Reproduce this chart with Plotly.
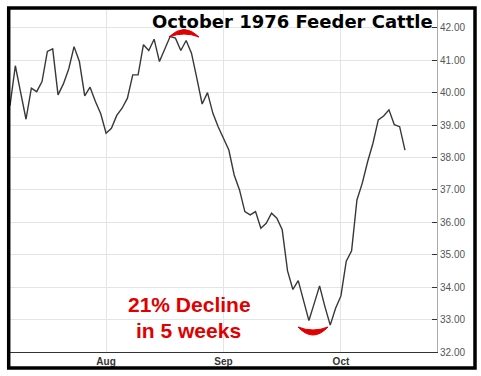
import pandas as pd
import plotly.graph_objects as go

# ---- data (trading days from 1976-07-07) ----
start_date = "1976-07-07"
prices = [
    39.60, 40.83, 40.00, 39.18, 40.14, 40.03, 40.34, 41.27, 41.35, 39.93,
    40.27, 40.73, 41.42, 40.96, 39.90, 40.17, 39.73, 39.35,
    38.75, 38.90, 39.30, 39.52, 39.83, 40.55, 40.55, 41.48, 41.30, 41.65,
    40.96, 41.32, 41.73, 41.68, 41.30, 41.61, 41.22, 40.45, 39.65, 40.00,
    39.37, 38.95,
    38.60, 38.23, 37.46, 37.00, 36.33, 36.23, 36.33, 35.82, 35.97, 36.28,
    36.13, 35.77, 34.50, 33.93, 34.20, 33.55, 32.97, 33.50, 34.04, 33.40,
    32.83,
    33.35, 33.73, 34.80, 35.12, 36.69, 37.21, 37.87, 38.44, 39.16, 39.28,
    39.47, 39.01, 38.95, 38.23,
]
dates = pd.bdate_range(start_date, periods=len(prices))

month_ticks = ["1976-08-02", "1976-09-01", "1976-10-01"]
month_labels = ["Aug", "Sep", "Oct"]
y_ticks = [32, 33, 34, 35, 36, 37, 38, 39, 40, 41, 42]

title_text = "October 1976 Feeder Cattle"
note_lines = ["21% Decline", "in 5 weeks"]

# ---- layout geometry (pixels) ----
W, H = 481, 376
L, R, T, B = 10, 437, 10, 352


def px(x):
    return (x - L) / (R - L)


def py(y):
    return (B - y) / (B - T)


fig = go.Figure()
fig.add_trace(go.Scatter(
    x=dates, y=prices, mode="lines",
    line=dict(color="#383838", width=1.4),
    hoverinfo="skip", showlegend=False,
))

red = "#e00000"


def crescent(x0, x1, y_end, y_outer_ctrl, y_inner_ctrl):
    xm = (x0 + x1) / 2
    return (f"M {px(x0)},{py(y_end)} Q {px(xm)},{py(y_outer_ctrl)} {px(x1)},{py(y_end)} "
            f"Q {px(xm)},{py(y_inner_ctrl)} {px(x0)},{py(y_end)} Z")


shapes = [
    # frame
    dict(type="rect", xref="paper", yref="paper",
         x0=px(8.7), x1=px(475), y0=py(368), y1=py(8),
         line=dict(color="black", width=3.5), fillcolor="rgba(0,0,0,0)", layer="above"),
    # top arc
    dict(type="path", xref="paper", yref="paper",
         path=crescent(169, 199, 37, 22, 31),
         fillcolor=red, line=dict(color=red, width=1)),
    # bottom arc
    dict(type="path", xref="paper", yref="paper",
         path=crescent(298, 328, 327, 343, 333),
         fillcolor=red, line=dict(color=red, width=1)),
]

annotations = [
    dict(text=title_text, xref="paper", yref="paper", x=px(292), y=py(21),
         xanchor="center", yanchor="middle", showarrow=False,
         font=dict(family="DejaVu Sans", size=18, color="black", weight="bold")),
    dict(text=note_lines[0], xref="paper", yref="paper", x=px(189), y=py(304),
         xanchor="center", yanchor="middle", showarrow=False,
         font=dict(family="Liberation Sans", size=21, color=red, weight="bold")),
    dict(text=note_lines[1], xref="paper", yref="paper", x=px(188), y=py(330),
         xanchor="center", yanchor="middle", showarrow=False,
         font=dict(family="Liberation Sans", size=21, color=red, weight="bold")),
]

fig.update_layout(
    width=W, height=H,
    margin=dict(l=L, r=W - R, t=T, b=H - B, pad=0),
    paper_bgcolor="white", plot_bgcolor="white",
    shapes=shapes, annotations=annotations,
    showlegend=False,
    xaxis=dict(
        type="date",
        range=["1976-07-07", "1976-10-27"],
        rangebreaks=[dict(bounds=["sat", "mon"])],
        tickvals=month_ticks, ticktext=month_labels,
        showgrid=True, gridcolor="#e4e4e4", gridwidth=1,
        showline=True, linecolor="#333333", linewidth=1.2,
        ticks="", tickfont=dict(family="Liberation Sans", size=10, color="#333333", weight="bold"),
        zeroline=False, fixedrange=True,
    ),
    yaxis=dict(
        side="right", range=[32, 42.55],
        tickvals=y_ticks, tickformat=".2f",
        showgrid=True, gridcolor="#e4e4e4", gridwidth=1,
        showline=True, linecolor="#aaaaaa", linewidth=1,
        ticks="inside", ticklen=5, tickcolor="#333333", tickwidth=1,
        tickfont=dict(family="Liberation Sans", size=10, color="#555555"),
        zeroline=False, fixedrange=True,
    ),
)

fig.write_html(
    "out.html",
    config={"displayModeBar": False},
    post_script="document.body.style.margin='0';document.body.style.padding='0';",
)
